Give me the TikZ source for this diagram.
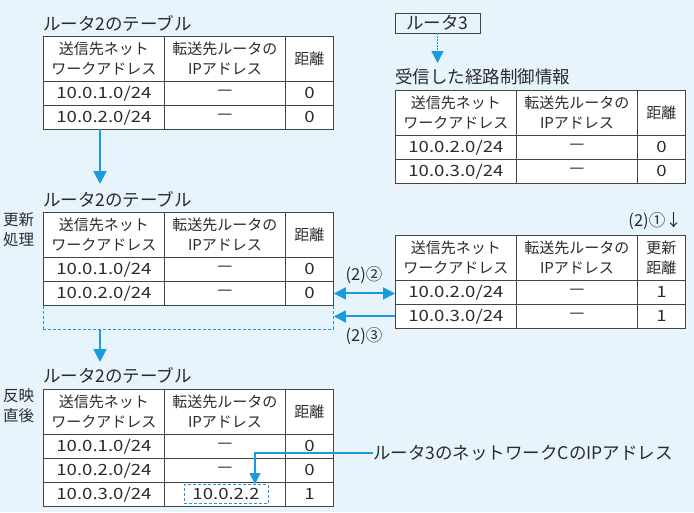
\documentclass[tikz,border=0pt]{standalone}
\usepackage{fontspec}
\setmainfont{Noto Sans CJK JP}
\newfontfamily\numf[FakeStretch=1.2]{Noto Sans CJK JP}
\usetikzlibrary{arrows.meta}
\definecolor{bg}{HTML}{E8F4FC}
\definecolor{ablue}{HTML}{1A9BDD}
\definecolor{txt}{HTML}{2B2B2B}
\definecolor{rule}{HTML}{444444}
\tikzset{
 cell/.style={draw=rule, line width=0.9pt, fill=white, inner sep=0pt, align=center, anchor=north west, text=txt, font=\fontsize{15}{20}\selectfont},
 ncell/.style={cell, font=\fontsize{15.5}{20}\selectfont\numf},
 ttl/.style={anchor=west, inner sep=0pt, text=txt, font=\fontsize{17.5}{20}\selectfont},
 side/.style={anchor=west, inner sep=0pt, align=left, text=txt, font=\fontsize{15.5}{20}\selectfont},
 note/.style={inner sep=0pt, text=txt, font=\fontsize{16.5}{18}\selectfont},
 barrow/.style={draw=ablue, line width=2pt, -{Triangle[length=13pt,width=13pt]}},
 tarrow/.style={draw=ablue, line width=1.6pt, -{Triangle[length=11pt,width=11pt]}},
 bluedash/.style={draw=ablue, line width=0.9pt, dash pattern=on 3pt off 2pt},
}
\newcommand\tc[6]{\node[cell, minimum width=#4pt, minimum height=#5pt] (#1) at (#2,#3) {#6};}
\newcommand\nc[6]{\node[ncell, minimum width=#4pt, minimum height=#5pt] (#1) at (#2,#3) {#6};}
\newcommand\dsh{\raisebox{-2.5pt}{－}}
\begin{document}
\begin{tikzpicture}[x=1pt,y=-1pt]
\fill[bg] (0,0) rectangle (694,512);
\useasboundingbox (0,0) rectangle (694,512);

% ---------- Table 1 ----------
\node[ttl] (t1) at (43,23) {ルータ2のテーブル};
\tc{a11}{43}{36}{121}{45}{送信先ネット\\ワークアドレス}
\tc{a12}{164}{36}{121}{45}{転送先ルータの\\IPアドレス}
\tc{a13}{285}{36}{48}{45}{距離}
\nc{a21}{43}{81}{121}{24}{10.0.1.0/24}
\nc{a22}{164}{81}{121}{24}{\dsh}
\nc{a23}{285}{81}{48}{24}{0}
\nc{a31}{43}{105}{121}{24}{10.0.2.0/24}
\nc{a32}{164}{105}{121}{24}{\dsh}
\nc{a33}{285}{105}{48}{24}{0}

\coordinate (s1) at (100,129);
\coordinate (e1) at (100,184);
\draw[barrow] (s1) -- (e1);

% ---------- Table 2 ----------
\node[ttl] (t2) at (43,199) {ルータ2のテーブル};
\node[side] (u1) at (3,230) {更新\\処理};
\node[bluedash, inner sep=0pt, minimum width=290pt, minimum height=24pt, anchor=north west] (newrow) at (43,305) {};
\tc{b11}{43}{212}{121}{45}{送信先ネット\\ワークアドレス}
\tc{b12}{164}{212}{121}{45}{転送先ルータの\\IPアドレス}
\tc{b13}{285}{212}{48}{45}{距離}
\nc{b21}{43}{257}{121}{24}{10.0.1.0/24}
\nc{b22}{164}{257}{121}{24}{\dsh}
\nc{b23}{285}{257}{48}{24}{0}
\nc{b31}{43}{281}{121}{24}{10.0.2.0/24}
\nc{b32}{164}{281}{121}{24}{\dsh}
\nc{b33}{285}{281}{48}{24}{0}

\coordinate (s2) at (100,329);
\coordinate (e2) at (100,362);
\draw[barrow] (s2) -- (e2);

% ---------- Table 3 ----------
\node[ttl] (t3) at (43,375) {ルータ2のテーブル};
\node[side] (u2) at (3,406) {反映\\直後};
\tc{c11}{43}{389}{121}{45}{送信先ネット\\ワークアドレス}
\tc{c12}{164}{389}{121}{45}{転送先ルータの\\IPアドレス}
\tc{c13}{285}{389}{48}{45}{距離}
\nc{c21}{43}{434}{121}{24}{10.0.1.0/24}
\nc{c22}{164}{434}{121}{24}{\dsh}
\nc{c23}{285}{434}{48}{24}{0}
\nc{c31}{43}{458}{121}{24}{10.0.2.0/24}
\nc{c32}{164}{458}{121}{24}{\dsh}
\nc{c33}{285}{458}{48}{24}{0}
\nc{c41}{43}{482}{121}{24}{10.0.3.0/24}
\nc{c42}{164}{482}{121}{24}{}
\nc{c43}{285}{482}{48}{24}{1}
\node[bluedash, inner sep=0pt, minimum width=84pt, minimum height=19pt, text=txt, font=\fontsize{15.5}{20}\selectfont\numf] (ipbox) at (226,494) {10.0.2.2};

\node[anchor=west, inner sep=0pt, text=txt, font=\fontsize{17.5}{20}\selectfont] (lbl) at (373,453) {ルータ3のネットワークCのIPアドレス};
\draw[tarrow] (lbl.west) -| ([xshift=29pt]ipbox.north);

% ---------- Router 3 ----------
\node[draw=rule, line width=0.9pt, minimum width=85pt, minimum height=20pt, inner sep=0pt, text=txt, font=\fontsize{17.5}{20}\selectfont] (r3) at (437.5,23) {ルータ3};
\coordinate (r3tip) at (437.5,63);
\draw[draw=ablue, line width=1.4pt, dash pattern=on 1.2pt off 1.8pt, -{Triangle[length=12pt,width=12pt]}] (r3.south) -- (r3tip);

% ---------- Table 4 ----------
\node[ttl] (t4) at (395,77) {受信した経路制御情報};
\tc{d11}{395}{90}{121}{45}{送信先ネット\\ワークアドレス}
\tc{d12}{516}{90}{121}{45}{転送先ルータの\\IPアドレス}
\tc{d13}{637}{90}{48}{45}{距離}
\nc{d21}{395}{135}{121}{24}{10.0.2.0/24}
\nc{d22}{516}{135}{121}{24}{\dsh}
\nc{d23}{637}{135}{48}{24}{0}
\nc{d31}{395}{159}{121}{24}{10.0.3.0/24}
\nc{d32}{516}{159}{121}{24}{\dsh}
\nc{d33}{637}{159}{48}{24}{0}

% ---------- Table 5 ----------
\node[note, anchor=east] (n1) at (682,221) {(2)①↓};
\tc{e11}{395}{235}{121}{45}{送信先ネット\\ワークアドレス}
\tc{e12}{516}{235}{121}{45}{転送先ルータの\\IPアドレス}
\tc{e13}{637}{235}{48}{45}{更新\\距離}
\nc{e21}{395}{280}{121}{24}{10.0.2.0/24}
\nc{e22}{516}{280}{121}{24}{\dsh}
\nc{e23}{637}{280}{48}{24}{1}
\nc{e31}{395}{304}{121}{24}{10.0.3.0/24}
\nc{e32}{516}{304}{121}{24}{\dsh}
\nc{e33}{637}{304}{48}{24}{1}

% ---------- exchange arrows ----------
\draw[barrow, {Triangle[length=12pt,width=12pt]}-{Triangle[length=12pt,width=12pt]}] (b33.east) -- (e21.west |- b33.east);
\draw[barrow, -{Triangle[length=12pt,width=12pt]}] (e31.west) -- (newrow.east |- e31.west);
\node[note] (n2) at (364,275) {(2)②};
\node[note] (n3) at (364,336) {(2)③};
\end{tikzpicture}
\end{document}
